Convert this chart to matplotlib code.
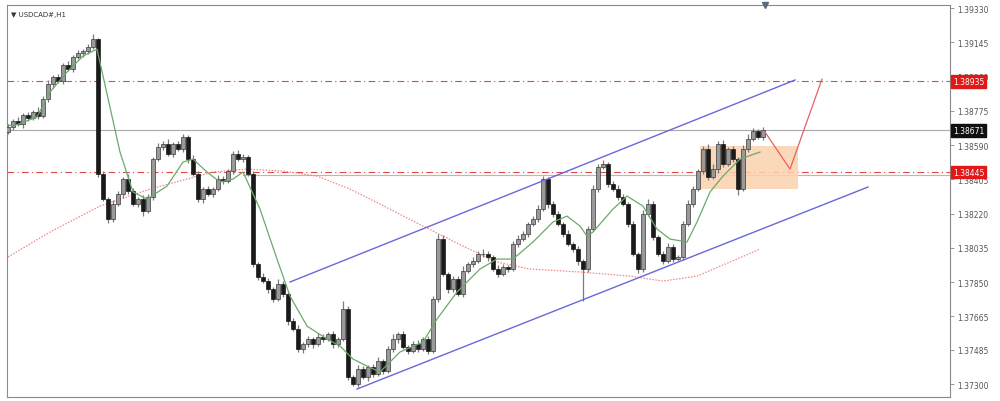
import matplotlib
matplotlib.use("Agg")
import matplotlib.pyplot as plt
from matplotlib.patches import Rectangle
import numpy as np

# ---------------- data ----------------
symbol_title = "USDCAD#,H1"
first_open = 1.38660
closes = [
    1.38688, 1.38720, 1.38704, 1.38753, 1.38736, 1.38769, 1.38747, 1.38839, 1.38920, 1.38958,
    1.38936, 1.39023, 1.39001, 1.39066, 1.39087, 1.39098, 1.39120, 1.39163, 1.38434, 1.38299,
    1.38191, 1.38272, 1.38326, 1.38407, 1.38342, 1.38272, 1.38299, 1.38234, 1.38310, 1.38515,
    1.38580, 1.38596, 1.38542, 1.38596, 1.38569, 1.38634, 1.38515, 1.38434, 1.38299, 1.38353,
    1.38326, 1.38353, 1.38407, 1.38396, 1.38450, 1.38542, 1.38515, 1.38526, 1.38434, 1.37948,
    1.37878, 1.37856, 1.37813, 1.37759, 1.37840, 1.37786, 1.37640, 1.37597, 1.37489, 1.37516,
    1.37543, 1.37516, 1.37554, 1.37543, 1.37570, 1.37516, 1.37543, 1.37705, 1.37338, 1.37300,
    1.37381, 1.37338, 1.37392, 1.37354, 1.37424, 1.37370, 1.37489, 1.37543, 1.37570, 1.37500,
    1.37478, 1.37516, 1.37489, 1.37543, 1.37478, 1.37759, 1.38083, 1.37894, 1.37813, 1.37867,
    1.37786, 1.37910, 1.37948, 1.37964, 1.38002, 1.38002, 1.37986, 1.37921, 1.37894, 1.37932,
    1.37921, 1.38056, 1.38083, 1.38110, 1.38164, 1.38191, 1.38245, 1.38407, 1.38272, 1.38218,
    1.38164, 1.38110, 1.38056, 1.38029, 1.37964, 1.37921, 1.38137, 1.38353, 1.38472, 1.38488,
    1.38380, 1.38353, 1.38310, 1.38272, 1.38164, 1.38002, 1.37921, 1.38218, 1.38272, 1.38094,
    1.38002, 1.37964, 1.38040, 1.37975, 1.37986, 1.38164, 1.38272, 1.38353, 1.38450, 1.38569,
    1.38418, 1.38461, 1.38596, 1.38488, 1.38569, 1.38515, 1.38353, 1.38569, 1.38623, 1.38666,
    1.38634, 1.38671,
]
upper_wick_pips = [
    3, 2, 4, 2, 3, 2, 5, 3, 4, 2,
    3, 2, 4, 2, 3, 2, 3, 5, 1, 3,
    2, 4, 3, 2, 5, 3, 2, 4, 3, 2,
    4, 3, 5, 2, 3, 3, 2, 4, 3, 2,
    3, 2, 4, 3, 2, 3, 4, 3, 2, 3,
    2, 4, 3, 2, 5, 3, 2, 3, 4, 2,
    3, 2, 4, 3, 2, 3, 2, 9, 3, 2,
    4, 3, 2, 3, 4, 2, 3, 5, 2, 3,
    2, 3, 4, 2, 3, 3, 5, 4, 2, 3,
    3, 5, 2, 4, 3, 5, 3, 2, 4, 3,
    2, 3, 4, 3, 2, 3, 4, 3, 2, 3,
    3, 2, 4, 2, 3, 2, 3, 4, 3, 4,
    2, 3, 4, 3, 2, 3, 2, 4, 5, 3,
    2, 3, 4, 3, 2, 3, 4, 3, 2, 3,
    5, 6, 3, 4, 2, 3, 2, 4, 5, 3,
    2, 3,
]
lower_wick_pips = [
    2, 3, 2, 4, 3, 2, 3, 2, 3, 4,
    2, 3, 2, 3, 2, 4, 3, 2, 3, 2,
    4, 3, 2, 4, 3, 2, 3, 5, 2, 3,
    2, 3, 2, 3, 2, 3, 4, 2, 3, 4,
    2, 3, 2, 3, 2, 3, 2, 3, 2, 3,
    3, 2, 4, 3, 2, 3, 4, 2, 3, 4,
    3, 4, 2, 3, 2, 4, 3, 2, 3, 2,
    3, 2, 4, 3, 2, 3, 2, 3, 4, 2,
    3, 2, 3, 2, 3, 2, 3, 2, 4, 3,
    2, 3, 2, 3, 2, 3, 4, 2, 3, 2,
    3, 2, 3, 2, 3, 2, 3, 2, 4, 3,
    2, 3, 2, 3, 4, 34, 3, 2, 3, 2,
    3, 2, 3, 2, 3, 2, 4, 3, 2, 3,
    2, 3, 2, 3, 2, 3, 2, 3, 2, 3,
    3, 2, 4, 3, 2, 3, 6, 2, 3, 2,
    2, 3,
]

# fast moving average (green), bar index / price
ma_fast_idx = [0, 1, 5.8, 8.4, 11.8, 15, 17.8, 22.4, 25, 27.8, 31.8, 35, 37, 39.8, 42.4, 45, 47,
               50.4, 53.8, 56.4, 59.8, 63.8, 66.4, 69, 71.8, 74.4, 78.4, 83, 85.8, 89.8, 94.4,
               97.8, 101, 105, 109, 111.8, 114.4, 115.8, 117, 121, 123.8, 127, 129.8, 132.4,
               135.8, 137.8, 140.4, 143, 146.4, 150.4]
ma_fast_val = [1.38700, 1.38693, 1.38742, 1.38877, 1.38985, 1.39071, 1.39109, 1.38553, 1.38337,
               1.38299, 1.38369, 1.38499, 1.38515, 1.38445, 1.38391, 1.38407, 1.38445, 1.38245,
               1.37975, 1.37775, 1.37613, 1.37543, 1.37505, 1.37435, 1.37397, 1.37365, 1.37473,
               1.37527, 1.37651, 1.37797, 1.37921, 1.37975, 1.37975, 1.38067, 1.38175, 1.38207,
               1.38153, 1.38099, 1.38121, 1.38245, 1.38315, 1.38261, 1.38137, 1.38083, 1.38067,
               1.38175, 1.38337, 1.38423, 1.38515, 1.38553]
# slow moving average (red dotted)
ma_slow_idx = [0, 8.4, 18.4, 28.4, 35.8, 41, 47.8, 55, 61.8, 68.4, 74.4, 83, 91, 97.8, 104.4,
               114.4, 124.4, 131, 137.8, 144.4, 150.4]
ma_slow_val = [1.37986, 1.38121, 1.38261, 1.38353, 1.38407, 1.38445, 1.38461, 1.38450, 1.38423,
               1.38353, 1.38272, 1.38153, 1.38045, 1.37959, 1.37921, 1.37905, 1.37883, 1.37856,
               1.37883, 1.37959, 1.38029]

# channel lines (bar index, price)
chan_upper_idx = [56.4, 157.4]
chan_upper_val = [1.37851, 1.38942]
chan_lower_idx = [69.8, 172.0]
chan_lower_val = [1.37273, 1.38364]

# projected path (red)
proj_idx = [151.4, 156.4, 162.8]
proj_val = [1.38661, 1.38461, 1.38947]

# support zone box
zone_idx = [138.4, 158.0]
zone_val = [1.38353, 1.38585]

resistance_level = 1.38935
support_level = 1.38445
support_level_solid = 1.38430
support_solid_start = 47
current_price = 1.38671
shift_marker_idx = 151.4

ytick_vals = [1.39330, 1.39145, 1.38960, 1.38775, 1.38590, 1.38405, 1.38220, 1.38035,
              1.37850, 1.37665, 1.37485, 1.37300]
ytick_labels = ["1.39330", "1.39145", "1.38960", "1.38775", "1.38590", "1.38405", "1.38220",
                "1.38035", "1.37850", "1.37665", "1.37485", "1.37300"]

# ---------------- plot ----------------
fig = plt.figure(figsize=(10, 4.02), dpi=100)
ax = fig.add_axes([0.007, 0.01, 0.943, 0.975])
ax.set_xlim(-0.2, 188.4)
ax.set_ylim(1.37230, 1.39347)

n = len(closes)
x = np.arange(n)
c = np.array(closes)
o = np.concatenate([[first_open], c[:-1]])
hi = np.maximum(o, c) + np.array(upper_wick_pips) * 0.0001 * 0.5
lo = np.minimum(o, c) - np.array(lower_wick_pips) * 0.0001 * 0.5

# horizontal levels
ax.axhline(current_price, color="#a8a8a8", lw=0.8, zorder=1)
ax.axhline(resistance_level, color="#e04848", lw=0.8, ls=(0, (6, 3, 1, 3)), zorder=1)
ax.axhline(support_level, color="#e04848", lw=0.8, ls=(0, (6, 3, 1, 3)), zorder=1)
ax.plot([support_solid_start, 188.4], [support_level_solid, support_level_solid],
        color="#f0a0a0", lw=0.8, zorder=1)

# zone
ax.add_patch(Rectangle((zone_idx[0], zone_val[0]), zone_idx[1] - zone_idx[0],
                       zone_val[1] - zone_val[0], facecolor="#fbd2ad", edgecolor="none",
                       alpha=0.85, zorder=1))

# moving averages
ax.plot(ma_slow_idx, ma_slow_val, color="#f08888", lw=0.9, ls=(0, (1.2, 1.2)), zorder=2)
ax.plot(ma_fast_idx, ma_fast_val, color="#6aaa6a", lw=0.9, zorder=4)

# candles
wick_col = "#7a7a7a"
ax.vlines(x, lo, hi, color=wick_col, lw=0.9, zorder=3)
bull = c >= o
ax.bar(x[bull], (c - o)[bull], bottom=o[bull], width=0.62, color="#999999",
       edgecolor="#3a3a3a", linewidth=0.5, zorder=3)
ax.bar(x[~bull], (o - c)[~bull], bottom=c[~bull], width=0.62, color="#1a1a1a",
       edgecolor="#1a1a1a", linewidth=0.5, zorder=3)

# channel
ax.plot(chan_upper_idx, chan_upper_val, color="#6868d8", lw=1.0, zorder=5)
ax.plot(chan_lower_idx, chan_lower_val, color="#6868d8", lw=1.0, zorder=5)

# projection
ax.plot(proj_idx, proj_val, color="#e86060", lw=0.9, zorder=5)

# axes style
for s in ax.spines.values():
    s.set_color("#8a8a8a")
    s.set_linewidth(0.8)
ax.set_xticks([])
ax.yaxis.tick_right()
ax.set_yticks(ytick_vals)
ax.set_yticklabels(ytick_labels)
ax.tick_params(axis="y", direction="out", length=3, width=0.6, colors="#8a8a8a",
               labelcolor="#555555", labelsize=5.5, pad=2)

# price labels on the axis
def price_tag(val, bg, txt):
    ax.annotate(txt, xy=(1.0, val), xycoords=("axes fraction", "data"),
                xytext=(2, 0), textcoords="offset points", ha="left", va="center",
                fontsize=5.5, color="white",
                bbox=dict(boxstyle="square,pad=0.25", fc=bg, ec=bg), zorder=10,
                annotation_clip=False)

price_tag(resistance_level, "#e01818", f"{resistance_level:.5f}")
price_tag(current_price, "#101010", f"{current_price:.5f}")
price_tag(support_level, "#e01818", f"{support_level:.5f}")

# title & shift marker
ax.text(0.004, 0.985, "\u25bc " + symbol_title, transform=ax.transAxes, ha="left", va="top",
        fontsize=5, color="#333333")
ax.plot([shift_marker_idx], [1.39347], marker="v", color="#5a6a80", markersize=5,
        clip_on=False, zorder=10)

fig.savefig("out.png", dpi=100)
